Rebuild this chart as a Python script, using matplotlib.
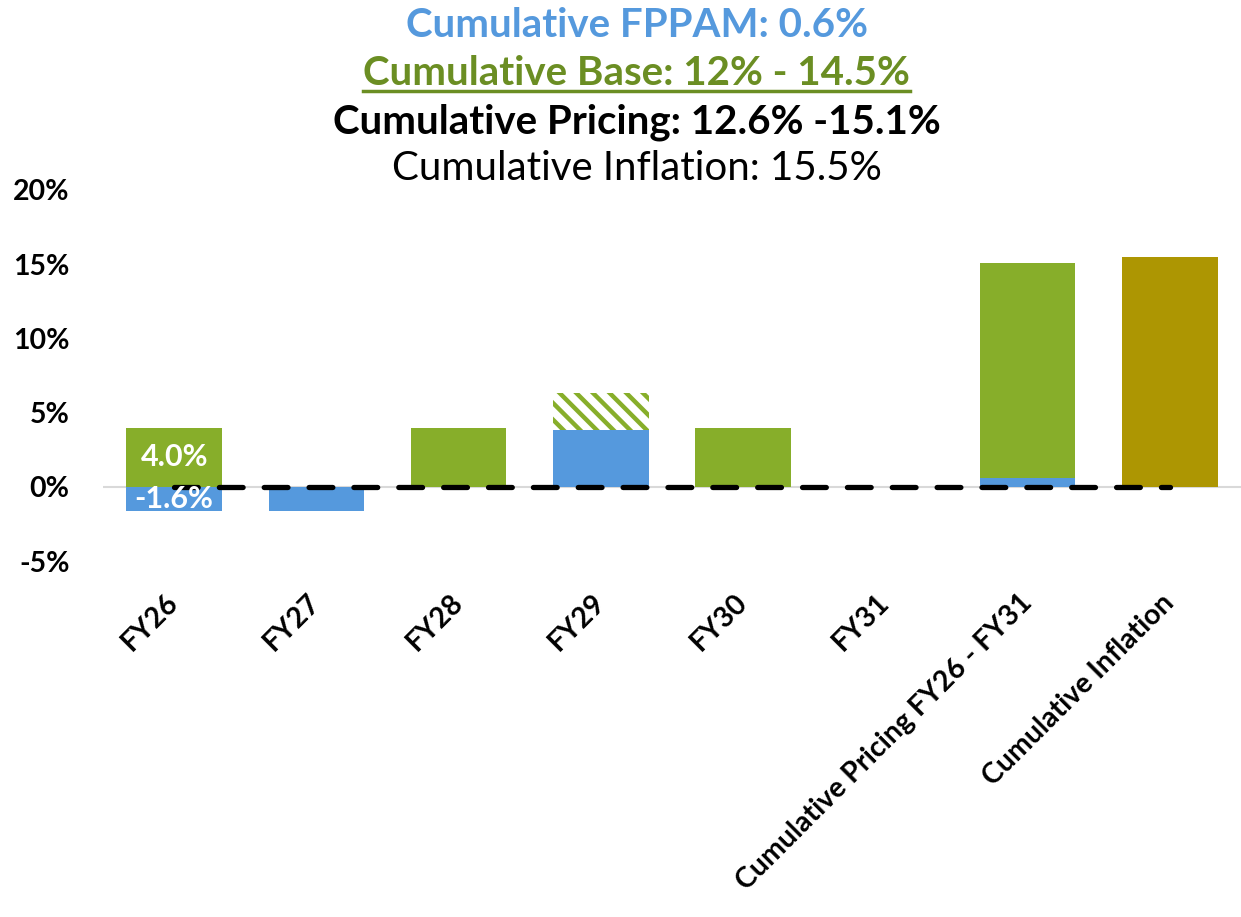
import matplotlib.pyplot as plt
from matplotlib.lines import Line2D

# dados do gráfico
categorias = ['FY26', 'FY27', 'FY28', 'FY29', 'FY30', 'FY31',
              'Cumulative Pricing FY26 - FY31', 'Cumulative Inflation']
fppam = [-1.6, -1.6, 0, 3.8, 0, 0, 0.6, 0]
base = [4.0, 0, 4.0, 0, 4.0, 0, 14.5, 0]
base_faixa = [0, 0, 0, 2.5, 0, 0, 0, 0]   # parte hachurada (faixa 12% - 14.5%)
inflacao = [0, 0, 0, 0, 0, 0, 0, 15.5]
linha_zero = [0] * len(categorias)

titulos = ['Cumulative FPPAM: 0.6%', 'Cumulative Base: 12% - 14.5%',
           'Cumulative Pricing: 12.6% -15.1%', 'Cumulative Inflation: 15.5%']

AZUL = '#5599DD'
VERDE = '#87AE2A'
VERDE_ESCURO = '#6B8E23'
OLIVA = '#AD9602'

plt.rcParams['font.family'] = ['Lato', 'DejaVu Sans']
plt.rcParams['hatch.linewidth'] = 3.2
plt.rcParams['hatch.color'] = VERDE

fig = plt.figure(figsize=(12.41, 9.17), dpi=100)
ax = fig.add_axes([0.083, 0.388, 0.917, 0.405])

x = list(range(len(categorias)))
w = 0.67

# base verde: empilhada acima do azul quando o azul é positivo
base_bottom = [f if f > 0 else 0 for f in fppam]
ax.bar(x, fppam, width=w, color=AZUL, zorder=2)
ax.bar(x, base, width=w, bottom=base_bottom, color=VERDE, zorder=2)
faixa_bottom = [b + bb for b, bb in zip(base, base_bottom)]
ax.bar(x, base_faixa, width=w, bottom=faixa_bottom, color='white',
       hatch='\\\\', edgecolor=VERDE, linewidth=0, zorder=2)
ax.bar(x, inflacao, width=w, color=OLIVA, zorder=2)

ax.axhline(0, color='#D9D9D9', lw=1.5, zorder=1)
ax.plot(x, linha_zero, color='black', lw=3.8, dashes=(4.5, 4),
        dash_capstyle='round', zorder=3)

# rótulos do FY26
ax.text(0, base[0] / 2, f'{base[0]:.1f}%', ha='center', va='center',
        color='white', fontsize=22, fontweight='bold', zorder=4)
ax.text(0, fppam[0] / 2, f'{fppam[0]:.1f}%', ha='center', va='center',
        color='white', fontsize=22, fontweight='bold', zorder=4)

ax.set_xlim(-0.5, len(categorias) - 0.5)
ax.set_ylim(-5, 20)
ax.set_yticks([-5, 0, 5, 10, 15, 20])
ax.set_yticklabels([f'{v}%' for v in [-5, 0, 5, 10, 15, 20]],
                   fontsize=20.5, fontweight='bold')
ax.set_xticks(x)
ax.set_xticklabels(categorias, rotation=45, ha='right', va='center',
                   rotation_mode='anchor', fontsize=20.5, fontweight='bold')
ax.tick_params(axis='y', length=0, pad=24)
ax.tick_params(axis='x', length=0, pad=27)
for s in ax.spines.values():
    s.set_visible(False)

# títulos
cores = [AZUL, VERDE_ESCURO, 'black', 'black']
pesos = ['bold', 'bold', 'bold', 'normal']
ys = [0.972, 0.920, 0.867, 0.816]
textos = []
for t, c, p, yy in zip(titulos, cores, pesos, ys):
    textos.append(fig.text(0.513, yy, t, ha='center', va='center',
                           color=c, fontweight=p, fontsize=29))

# sublinhado do segundo título
fig.canvas.draw()
bb = textos[1].get_window_extent().transformed(fig.transFigure.inverted())
fig.add_artist(Line2D([bb.x0, bb.x1], [bb.y0 + 0.001, bb.y0 + 0.001],
                      color=VERDE_ESCURO, lw=2.5, transform=fig.transFigure))

fig.savefig('out.png', dpi=100)
